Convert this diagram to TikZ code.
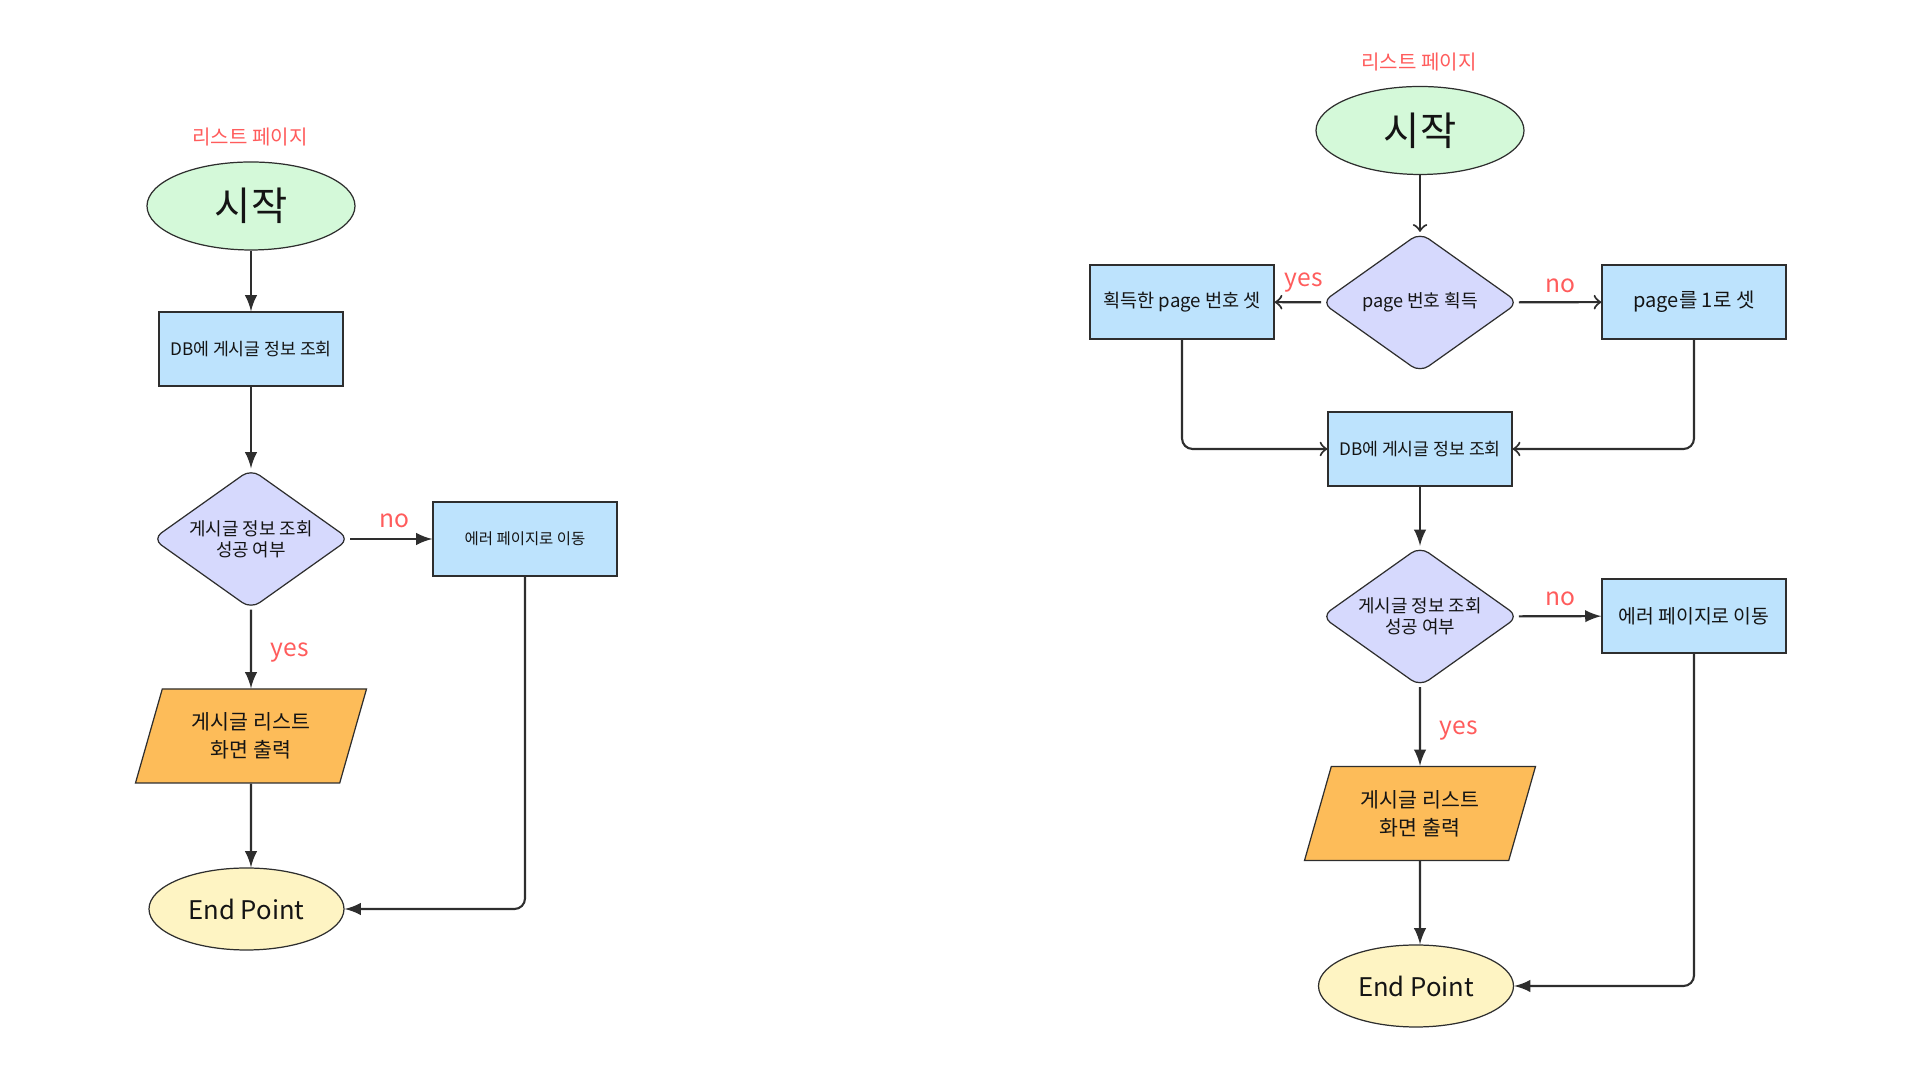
\documentclass[tikz,border=0pt]{standalone}
\usepackage{fontspec}
\setmainfont{Noto Sans CJK KR}
\usepackage{xcolor}
\usepackage{tikz}
\usetikzlibrary{arrows}
\usetikzlibrary{shapes.geometric}

\definecolor{linegray}{HTML}{2E2E2E}
\definecolor{inkgray}{HTML}{141414}
\definecolor{startfill}{HTML}{D4F9D9}
\definecolor{boxfill}{HTML}{BDE3FD}
\definecolor{checkfill}{HTML}{D6D9FD}
\definecolor{outfill}{HTML}{FDBC59}
\definecolor{endfill}{HTML}{FEF4C3}
\definecolor{notered}{HTML}{FF5C5C}

\newcommand{\fs}[1]{\fontsize{#1}{1.3\dimexpr#1pt\relax}\selectfont}

\tikzset{
  pagetitle/.style={text=notered, font=\fs{5.7}},
  startnode/.style={ellipse, draw=linegray, line width=0.35pt, fill=startfill, text=inkgray,
    minimum width=2.08cm, minimum height=0.88cm, inner sep=0pt, font=\fs{11.2}},
  endnode/.style={ellipse, draw=linegray, line width=0.35pt, fill=endfill, text=inkgray,
    minimum width=1.95cm, minimum height=0.82cm, inner sep=0pt, font=\fs{7.3}},
  stepbox/.style={rectangle, draw=linegray, line width=0.35pt, fill=boxfill, text=inkgray,
    minimum width=1.84cm, minimum height=0.74cm, inner sep=0pt},
  check/.style={diamond, aspect=1.4, draw=linegray, line width=0.35pt, fill=checkfill, text=inkgray,
    minimum width=1.97cm, minimum height=1.40cm, inner sep=0pt, rounded corners=3pt,
    align=center, font=\fontsize{5.1}{6}\selectfont},
  output/.style={trapezium, trapezium left angle=60, trapezium right angle=120,
    trapezium stretches body, draw=linegray, line width=0.35pt, fill=outfill, text=inkgray,
    minimum width=2.31cm, minimum height=0.94cm, inner sep=0pt,
    align=center, font=\fontsize{5.85}{7.9}\selectfont},
  answer/.style={text=notered, inner sep=0pt, font=\fs{7}},
  flow/.style={draw=linegray, line width=0.6pt, -latex, rounded corners=3pt},
  flowopen/.style={draw=linegray, line width=0.6pt, -to, rounded corners=3pt}
}

\begin{document}
\begin{tikzpicture}
    \useasboundingbox (0,0) rectangle (19.2,10.8);

    % left: list page
    \node[pagetitle] (titleL) at (2.50,9.43) {리스트 페이지};
    \node[startnode] (startL) at (2.51,8.74) {시작};
    \node[stepbox, font=\fs{4.9}] (dbL) at (2.51,7.31) {DB에 게시글 정보 조회};
    \node[check] (checkL) at (2.51,5.41) {게시글 정보 조회\\성공 여부};
    \node[stepbox, font=\fs{4.4}] (errL) at (5.25,5.41) {에러 페이지로 이동};
    \node[output] (outL) at (2.51,3.44) {게시글 리스트\\화면 출력};
    \node[endnode] (endL) at (2.465,1.71) {End Point};

    \draw[flow] (startL) to (dbL);
    \draw[flow] (dbL) to (checkL);
    \draw[flow] (checkL) to node[inner sep=0pt, label={[answer, label distance=0.7mm, xshift=0.3mm]above:{no}}]{} (errL);
    \draw[flow] (checkL) to node[inner sep=0pt, label={[answer, label distance=1.6mm, yshift=-0.4mm]right:{yes}}]{} (outL);
    \draw[flow] (outL) to (outL |- endL.north);
    \draw[flow] (errL.south) |- (endL.east);

    % right: list page with page number
    \node[pagetitle] (titleR) at (14.19,10.18) {리스트 페이지};
    \node[startnode] (startR) at (14.20,9.495) {시작};
    \node[check, font=\fs{5.15}] (pageR) at (14.20,7.775) {page 번호 획득};
    \node[stepbox, font=\fs{5.3}] (gotR) at (11.82,7.78) {획득한 page 번호 셋};
    \node[stepbox, font=\fs{5.7}] (setR) at (16.94,7.78) {page를 1로 셋};
    \node[stepbox, font=\fs{4.9}] (dbR) at (14.20,6.31) {DB에 게시글 정보 조회};
    \node[check] (checkR) at (14.20,4.635) {게시글 정보 조회\\성공 여부};
    \node[stepbox, font=\fs{5.5}] (errR) at (16.94,4.64) {에러 페이지로 이동};
    \node[output] (outR) at (14.20,2.665) {게시글 리스트\\화면 출력};
    \node[endnode] (endR) at (14.16,0.94) {End Point};

    \draw[flowopen] (startR) to (pageR);
    \draw[flowopen] (pageR) to node[inner sep=0pt, label={[answer, label distance=0.6mm, xshift=0.6mm]above:{yes}}]{} (gotR);
    \draw[flowopen] (pageR) to node[inner sep=0pt, label={[answer, label distance=0.6mm]above:{no}}]{} (setR);
    \draw[flowopen] (gotR.south) |- (dbR.west);
    \draw[flowopen] (setR.south) |- (dbR.east);
    \draw[flow] (dbR) to (checkR);
    \draw[flow] (checkR) to node[inner sep=0pt, label={[answer, label distance=0.7mm]above:{no}}]{} (errR);
    \draw[flow] (checkR) to node[inner sep=0pt, label={[answer, label distance=1.6mm, yshift=-0.4mm]right:{yes}}]{} (outR);
    \draw[flow] (outR) to (outR |- endR.north);
    \draw[flow] (errR.south) |- (endR.east);
\end{tikzpicture}
\end{document}
